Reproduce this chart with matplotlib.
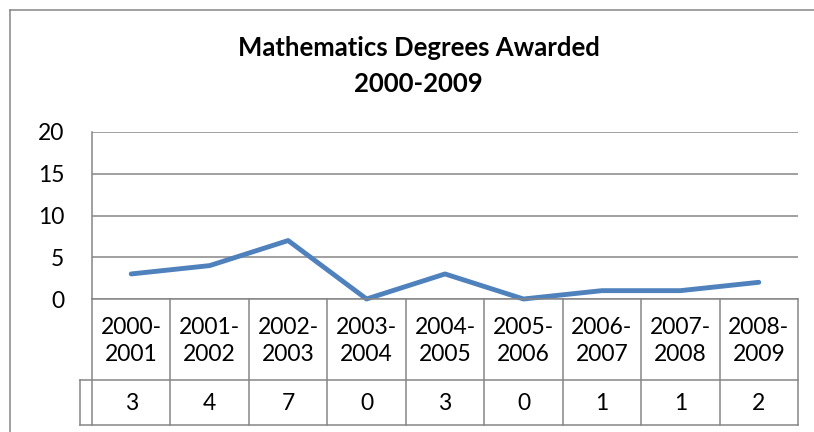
import matplotlib
matplotlib.use("Agg")
import matplotlib.pyplot as plt
from matplotlib.lines import Line2D
import matplotlib.transforms as mtransforms

categories = ["2000-\n2001", "2001-\n2002", "2002-\n2003", "2003-\n2004", "2004-\n2005",
              "2005-\n2006", "2006-\n2007", "2007-\n2008", "2008-\n2009"]
degrees = [3, 4, 7, 0, 3, 0, 1, 1, 2]
yticks = [0, 5, 10, 15, 20]

W, H = 814, 432
plt.rcParams['font.family'] = ['Lato', 'DejaVu Sans']
fig = plt.figure(figsize=(W/100, H/100), dpi=100)
fig.patch.set_facecolor('white')

grid_c = '#868686'
L, R, T, B = 92, 798, 132, 299
ax = fig.add_axes([L/W, (H-B)/H, (R-L)/W, (B-T)/H])
n = len(degrees)
xs = [i + 0.5 for i in range(n)]
ax.plot(xs, degrees, color='#4F81BD', lw=3.5, solid_joinstyle='round', solid_capstyle='round', clip_on=False)
ax.set_xlim(0, n)
ax.set_ylim(0, 20)
ax.set_yticks(yticks)
ax.set_xticks([])
ax.tick_params(axis='y', length=0, pad=20, labelsize=16.5)
ax.yaxis.grid(True, color=grid_c, lw=1.1)
ax.set_axisbelow(True)
for s in ['top', 'right']:
    ax.spines[s].set_visible(False)
for s in ['left', 'bottom']:
    ax.spines[s].set_color(grid_c)
    ax.spines[s].set_linewidth(1.1)

# data table below axes
tr = mtransforms.blended_transform_factory(ax.transData, ax.transAxes)
ph = B - T
def yf(pix):
    return (B - pix) / ph
y_mid = yf(380)
y_bot = yf(425)
colw = (R - L) / n
x_left = -12 / colw
kw = dict(color=grid_c, lw=1.1, transform=tr, clip_on=False)
for i in range(n + 1):
    ax.add_line(Line2D([i, i], [0, y_bot], **kw))
ax.add_line(Line2D([x_left, n], [y_mid, y_mid], **kw))
ax.add_line(Line2D([x_left, n], [y_bot, y_bot], **kw))
ax.add_line(Line2D([x_left, x_left], [y_mid, y_bot], **kw))
for i in range(n):
    ax.text(xs[i], yf(341), categories[i], transform=tr, ha='center', va='center',
            fontsize=16.5, linespacing=1.3)
    ax.text(xs[i], yf(403), str(degrees[i]), transform=tr, ha='center', va='center',
            fontsize=16.5)

cx = 0.5 * (236 + 601) / W
fig.text(cx, 1 - 48 / H, "Mathematics Degrees Awarded", ha='center', va='center',
         fontsize=18.5, fontweight='bold')
fig.text(cx, 1 - 84 / H, "2000-2009", ha='center', va='center',
         fontsize=18.5, fontweight='bold')

# outer chart border
fig.add_artist(Line2D([10/W, 10/W], [0, 1 - 10/H], color=grid_c, lw=1.1))
fig.add_artist(Line2D([10/W, 1], [1 - 10/H, 1 - 10/H], color=grid_c, lw=1.1))

fig.savefig('out.png', dpi=100)
